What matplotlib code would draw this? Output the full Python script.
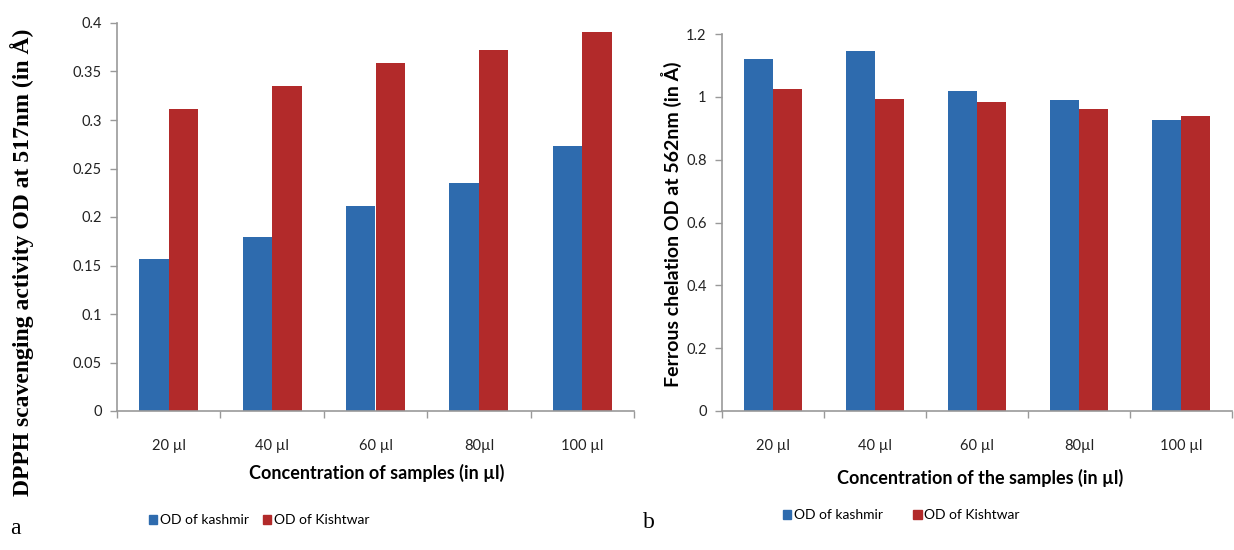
import numpy as np
import matplotlib
matplotlib.use("Agg")
import matplotlib.pyplot as plt
from matplotlib.patches import Patch

# data
categories = ["20 µl", "40 µl", "60 µl", "80µl", "100 µl"]
dpph_kashmir = [0.157, 0.179, 0.211, 0.235, 0.273]
dpph_kishtwar = [0.311, 0.335, 0.359, 0.372, 0.391]
fe_kashmir = [1.122, 1.145, 1.020, 0.990, 0.926]
fe_kishtwar = [1.025, 0.992, 0.985, 0.962, 0.940]
series_names = ["OD of kashmir", "OD of Kishtwar"]

blue = "#2E6BAE"
red = "#B22A2A"
tick_font = "Lato"

fig = plt.figure(figsize=(12.34, 5.5), dpi=100)
W, H = 1234, 550

def px_axes(x0, x1, ytop, ybot):
    return fig.add_axes([x0 / W, 1 - ybot / H, (x1 - x0) / W, (ybot - ytop) / H])

ax1 = px_axes(117, 634, 23, 411)
ax2 = px_axes(722, 1232, 34, 411)

def draw(ax, a, b, ymax, ystep):
    x = np.arange(len(categories))
    w = 0.285
    ax.bar(x - w / 2, a, w, color=blue, linewidth=0)
    ax.bar(x + w / 2, b, w, color=red, linewidth=0)
    ax.set_xlim(-0.5, len(categories) - 0.5)
    ax.set_ylim(0, ymax)
    ticks = np.arange(0, ymax + ystep / 2, ystep)
    ax.set_yticks(ticks)
    ax.set_yticklabels(["%g" % round(t, 2) for t in ticks], fontfamily=tick_font, fontsize=10.5, color="#222222")
    # category boundaries as tick marks, labels in the middle
    ax.set_xticks(np.arange(-0.5, len(categories), 1.0))
    ax.set_xticklabels([])
    ax.set_xticks(x, minor=True)
    ax.set_xticklabels(categories, minor=True, fontfamily=tick_font, fontsize=10.5, color="#222222")
    ax.tick_params(axis="x", which="minor", length=0, pad=20)
    ax.tick_params(axis="x", which="major", length=5, color="#999999", width=1)
    ax.tick_params(axis="y", length=5, color="#999999", width=1, pad=6)
    for s in ["top", "right"]:
        ax.spines[s].set_visible(False)
    for s in ["left", "bottom"]:
        ax.spines[s].set_color("#999999")
        ax.spines[s].set_linewidth(1.2)

draw(ax1, dpph_kashmir, dpph_kishtwar, 0.4, 0.05)
draw(ax2, fe_kashmir, fe_kishtwar, 1.2, 0.2)

# axis titles
fig.text(22 / W, 1 - 262 / H, "DPPH scavenging activity OD at 517nm (in Å)", rotation=90,
         ha="center", va="center", fontfamily="Liberation Serif", fontweight="bold", fontsize=17)
fig.text(671 / W, 1 - 224 / H, "Ferrous chelation OD at 562nm (in Å)", rotation=90,
         ha="center", va="center", fontfamily=tick_font, fontweight="bold", fontsize=14)
fig.text(377 / W, 1 - 473 / H, "Concentration of samples (in µl)", ha="center", va="center",
         fontfamily=tick_font, fontweight="bold", fontsize=13)
fig.text(980 / W, 1 - 478 / H, "Concentration of the samples (in µl)", ha="center", va="center",
         fontfamily=tick_font, fontweight="bold", fontsize=13)

# legends
handles = [Patch(color=blue), Patch(color=red)]
fig.legend(handles, series_names, loc="center left", bbox_to_anchor=(136 / W, 1 - 520 / H),
           ncol=2, frameon=False, handlelength=0.6, handleheight=0.6, handletextpad=0.2,
           columnspacing=1.0, prop={"family": tick_font, "size": 10})
fig.legend(handles, series_names, loc="center left", bbox_to_anchor=(770 / W, 1 - 515 / H),
           ncol=2, frameon=False, handlelength=0.6, handleheight=0.6, handletextpad=0.2,
           columnspacing=2.2, prop={"family": tick_font, "size": 10})

# panel letters
fig.text(15 / W, 1 - 528 / H, "a", ha="center", va="center", fontfamily="Liberation Serif", fontsize=17)
fig.text(649 / W, 1 - 523 / H, "b", ha="center", va="center", fontfamily="Liberation Serif", fontsize=17)

fig.savefig("out.png", dpi=100)
